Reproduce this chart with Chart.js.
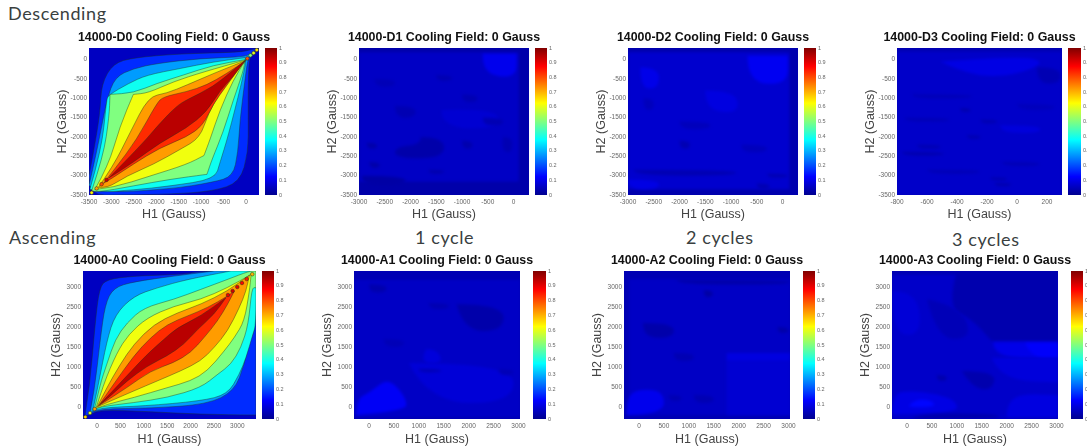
<!DOCTYPE html>
<html>
<head>
<meta charset="utf-8">
<script src="https://cdn.jsdelivr.net/npm/chart.js@4/dist/chart.umd.js"></script>
<style>
    html, body { margin: 0; padding: 0; background: #fff; overflow: hidden; }
    body { position: relative; width: 1087px; height: 448px; }
    canvas { position: absolute; filter: blur(0.5px); }
    .note { position: absolute; font-family: Lato, sans-serif; font-size: 18px; letter-spacing: 0.6px; color: #3a3f3f; white-space: nowrap; line-height: 20px; }
</style>
</head>
<body>
<div class="note" style="left:8px;top:3px">Descending</div>
<div class="note" style="left:9px;top:227px">Ascending</div>
<div class="note" style="left:415px;top:227px">1 cycle</div>
<div class="note" style="left:686px;top:227px">2 cycles</div>
<div class="note" style="left:952px;top:229px">3 cycles</div>
<script>
// ========== DATA ==========
const colorbarTicks = [0, 0.1, 0.2, 0.3, 0.4, 0.5, 0.6, 0.7, 0.8, 0.9, 1];
const jetValues = [0, 0.125, 0.375, 0.625, 0.875, 1];
const jetColors = [[0, 0, 143], [0, 0, 255], [0, 255, 255], [255, 255, 0], [255, 0, 0], [128, 0, 0]];

const d0XTicks = [-3500, -3000, -2500, -2000, -1500, -1000, -500, 0];
const d1XTicks = [-3000, -2500, -2000, -1500, -1000, -500, 0];
const d3XTicks = [-800, -600, -400, -200, 0, 200];
const descYTicks = [-3500, -3000, -2500, -2000, -1500, -1000, -500, 0];
const ascTicks = [0, 500, 1000, 1500, 2000, 2500, 3000];

// contour bands, outer to inner (a repeated vertex keeps its corner sharp)
const bandValues = [0.167, 0.278, 0.389, 0.5, 0.611, 0.722, 0.833, 0.944];

const d0Contours = [
    [[-3500,-3000],[-3400,-2410],[-3255,-1390],[-3220,-620],[-2960,-100],[-2510,50],[-1470,150],[-130,190],[120,260],[300,300],[300,300],[90,150],[50,-400],[50,-1550],[50,-2400],[-134,-3171],[-729,-3400],[-1680,-3480],[-2800,-3500],[-3500,-3500]],
    [[-3500,-3250],[-3330,-2410],[-3106,-1040],[-2920,-450],[-2510,-230],[-1990,-100],[-1030,30],[-50,70],[100,150],[100,150],[29,-60],[-23,-530],[-134,-1555],[-178,-2400],[-290,-3017],[-729,-3170],[-1695,-3350],[-3330,-3450]],
    [[-3480,-3350],[-3218,-2325],[-3110,-1060],[-3069,-920],[-2620,-615],[-2215,-400],[-1470,-230],[-730,-60],[-20,50],[-20,50],[0,-50],[-100,-615],[-400,-1990],[-580,-2660],[-690,-3090],[-1695,-3270],[-2510,-3370],[-3300,-3430]],
    [[-3440,-3390],[-3180,-2500],[-3050,-1470],[-3032,-900],[-3032,-900],[-2510,-860],[-1990,-615],[-1397,-400],[-730,-145],[-20,0],[-20,0],[-60,-300],[-283,-1043],[-513,-1889],[-758,-2580],[-870,-2966],[-870,-2966],[-1695,-3094],[-2510,-3265],[-3350,-3440]],
    [[-3370,-3360],[-3070,-2750],[-2810,-1720],[-2512,-900],[-2512,-900],[-2177,-860],[-1620,-570],[-951,-320],[-10,-10],[-10,-10],[-283,-530],[-580,-1300],[-803,-2070],[-937,-2480],[-937,-2480],[-1323,-2710],[-2140,-3010],[-2958,-3310]],
    [[-3290,-3300],[-2960,-2752],[-2590,-1900],[-2177,-960],[-1770,-870],[-1323,-660],[-729,-360],[-20,-30],[-20,-30],[-134,-145],[-540,-786],[-840,-1385],[-1026,-2025],[-1472,-2325],[-2066,-2710],[-2660,-3008],[-3100,-3330]],
    [[-3180,-3200],[-2920,-2820],[-2437,-2070],[-1992,-1130],[-1843,-960],[-1323,-830],[-877,-660],[-430,-360],[0,-20],[0,-20],[-90,-130],[-450,-700],[-730,-1150],[-960,-1700],[-1320,-2000],[-1920,-2280],[-2510,-2700],[-3000,-3080]],
    [[-3060,-3060],[-2360,-2240],[-1917,-1640],[-1546,-1200],[-1323,-1040],[-729,-700],[-283,-270],[-20,-20],[-20,-20],[-283,-440],[-580,-800],[-877,-1350],[-1323,-1770],[-1917,-2150],[-2510,-2650],[-2960,-2990]]
];
const d0TipPoints = [[-3440,-3440],[-3330,-3330],[-3220,-3220],[-3110,-3110],[30,30],[100,110],[170,170],[240,250]];
const d0TipValues = [0.64, 0.72, 0.8, 0.92, 0.8, 0.5, 0.6, 0.65];

const a0Contours = [
    [[-258,-225],[-150,566],[-43,2066],[50,2982],[208,3190],[783,3274],[1860,3315],[2219,3400],[3400,3400],[3400,3400],[3400,-200],[3400,-200],[2219,-183],[1142,-117],[65,-67],[-150,-200]],
    [[-150,-140],[-57,400],[65,1650],[172,2566],[352,2982],[783,3132],[1644,3274],[2506,3400],[2506,3400],[3400,3400],[3400,3400],[3400,1983],[3260,1690],[3152,1066],[2937,400],[2362,67],[1142,-33],[65,-42]],
    [[-93,-100],[30,566],[208,1650],[388,2316],[783,2774],[1285,2982],[1931,3190],[2865,3400],[2865,3400],[3400,3400],[3400,3400],[3400,2066],[3332,1816],[3188,1233],[3044,816],[2793,316],[2219,150],[998,25],[65,-17]],
    [[-57,-58],[65,566],[208,1066],[388,1690],[639,2107],[998,2482],[1644,2690],[2219,2940],[2793,3190],[3260,3400],[3400,3400],[3400,3400],[3400,2982],[3400,2982],[3310,2982],[3238,2066],[3080,1483],[2865,1066],[2578,816],[2219,483],[1500,233],[783,108],[65,8]],
    [[-22,-33],[136,566],[424,1358],[675,1816],[1070,2232],[1644,2524],[2219,2690],[2793,2982],[3296,3315],[3296,3315],[3260,2900],[3152,2149],[2937,1733],[2721,1400],[2362,900],[2003,650],[1500,483],[783,233],[208,67]],
    [[0,0],[208,483],[495,1066],[783,1566],[1213,2066],[1716,2357],[2219,2566],[2793,2899],[3260,3299],[3260,3299],[3188,2899],[3044,2482],[2793,1899],[2506,1483],[2219,1150],[1788,900],[1285,650],[783,400],[208,108]],
    [[29,25],[352,566],[783,1275],[1142,1733],[1500,2066],[1931,2274],[2362,2482],[2793,2774],[2937,2900],[2937,2900],[2793,2566],[2578,2149],[2290,1733],[2003,1358],[1644,1108],[1142,900],[639,483],[136,108]],
    [[65,67],[567,691],[1070,1316],[1429,1691],[1716,1983],[2219,2274],[2757,2732],[2757,2732],[2506,2316],[2147,1941],[1860,1566],[1500,1275],[1070,1025],[639,650],[208,192]]
];
const a0TipPoints = [[-250,-250],[-150,-150],[-50,-50],[2800,2800],[2900,2900],[3000,3000],[3100,3100],[3200,3200],[3320,3320]];
const a0TipValues = [0.66, 0.58, 0.72, 0.9, 0.92, 0.9, 0.88, 0.85, 0.7];

// low-field panels: soft patches on an almost uniform blue field
const d1Patches = [
    [[-3000,190],[100,190],[100,190],[100,-3150],[100,-3150],[-3000,-3150],[-3000,-3150]],
    [[-600,150],[60,150],[60,150],[60,-420],[-300,-450],[-600,-250]],
    [[-1400,-1300],[-300,-1250],[-300,-1800],[-1400,-1750]],
    [[-1800,-2000],[-1350,-2000],[-1350,-2550],[-2300,-2550],[-2300,-2250],[-1800,-2200]],
    [[-2950,-3000],[-2100,-3000],[-2100,-3250],[-2950,-3250]],
    [[-2850,-2150],[-2650,-2150],[-2650,-2300],[-2850,-2300]],
    [[-2800,-2650],[-2600,-2650],[-2600,-2800],[-2800,-2800]],
    [[-1000,-2100],[-800,-2100],[-800,-2300],[-1000,-2300]],
    [[-200,-2000],[0,-2000],[-50,-2450],[-250,-2300]],
    [[-1650,-2850],[-1350,-2850],[-1350,-2950],[-1650,-2950]],
    [[-2300,-1200],[-1900,-1200],[-1900,-1500],[-2300,-1500]],
    [[-600,-1500],[-200,-1500],[-200,-1700],[-600,-1700]],
    [[-1500,-400],[-1200,-400],[-1200,-550],[-1500,-550]],
    [[-2700,-500],[-2300,-500],[-2300,-700],[-2700,-700]],
    [[-1000,-900],[-700,-900],[-700,-1100],[-1000,-1100]]
];
const d1Values = [0.06, 0.105, 0.075, 0.03, 0.025, 0.03, 0.03, 0.035, 0.04, 0.035, 0.04, 0.04, 0.04, 0.045, 0.04];

const d2Patches = [
    [[-3000,190],[130,190],[130,190],[130,-3350],[130,-3350],[-3000,-3350],[-3000,-3350]],
    [[-680,100],[100,100],[100,100],[100,-650],[-680,-600]],
    [[-2760,-200],[-2400,-200],[-2400,-750],[-2760,-750]],
    [[-1500,-800],[-900,-800],[-850,-1400],[-1500,-1300]],
    [[-2900,-2850],[-900,-2850],[-900,-3000],[-2900,-3000]],
    [[-3000,-3100],[-2400,-3100],[-2400,-3350],[-3000,-3350]],
    [[-300,-2950],[100,-2950],[100,-3050],[-300,-3050]],
    [[-2000,-2100],[-1800,-2100],[-1800,-2300],[-2000,-2300]],
    [[-500,-3200],[-250,-3200],[-250,-3350],[-500,-3350]],
    [[-2700,-1000],[-2500,-1000],[-2500,-1300],[-2700,-1300]],
    [[-2000,-1600],[-1400,-1600],[-1400,-1800],[-2000,-1800]],
    [[-800,-2200],[-300,-2200],[-300,-2400],[-800,-2400]]
];
const d2Values = [0.07, 0.11, 0.1, 0.09, 0.04, 0.095, 0.04, 0.04, 0.04, 0.05, 0.05, 0.05];

const d3Patches = [
    [[-800,200],[300,200],[300,200],[300,-3500],[300,-3500],[-800,-3500],[-800,-3500]],
    [[-511,-50],[0,100],[200,-50],[0,-400],[-300,-450]],
    [[133,-200],[290,-200],[290,-620],[133,-620]],
    [[-667,-2200],[-511,-2200],[-511,-2300],[-667,-2300]],
    [[-767,-2390],[-490,-2390],[-490,-2480],[-767,-2480]],
    [[-378,-1250],[-311,-1250],[-311,-1350],[-378,-1350]],
    [[-244,-1550],[-133,-1550],[-133,-1650],[-244,-1650]],
    [[-333,-1950],[-244,-1950],[-244,-2050],[-333,-2050]],
    [[-178,-3050],[-67,-3050],[-67,-3120],[-178,-3120]],
    [[-150,-3190],[-40,-3190],[-40,-3270],[-150,-3270]],
    [[-111,-1700],[156,-1700],[156,-1900],[-111,-1900]],
    [[-700,-900],[-300,-900],[-300,-1000],[-700,-1000]],
    [[-750,-1500],[-450,-1500],[-450,-1600],[-750,-1600]],
    [[-600,-2850],[-250,-2850],[-250,-2950],[-600,-2950]],
    [[-100,-2650],[150,-2650],[150,-2750],[-100,-2750]],
    [[0,-1150],[250,-1150],[250,-1300],[0,-1300]]
];
const d3Values = [0.065, 0.095, 0.04, 0.04, 0.035, 0.035, 0.04, 0.04, 0.035, 0.035, 0.085, 0.045, 0.045, 0.045, 0.045, 0.05];

const a1Patches = [
    [[-300,3180],[3035,3180],[3035,3180],[3035,-250],[3035,-250],[-300,-250],[-300,-250]],
    [[800,1100],[2900,1100],[2900,100],[1200,100]],
    [[-250,-200],[750,-100],[750,200],[500,600],[300,650],[0,350],[-250,200]],
    [[1760,2570],[2700,2570],[2700,1900],[1900,1900]],
    [[0,3060],[350,3060],[350,2860],[0,2860]],
    [[1150,1450],[1350,1450],[1500,1100],[1000,1100]],
    [[1000,950],[1450,950],[1450,870],[1000,870]],
    [[1200,2600],[1600,2600],[1600,2450],[1200,2450]],
    [[300,1700],[700,1700],[700,1500],[300,1500]],
    [[2600,950],[2900,950],[2900,800],[2600,800]]
];
const a1Values = [0.06, 0.08, 0.115, 0.03, 0.035, 0.085, 0.04, 0.04, 0.045, 0.045];

const a2Patches = [
    [[-200,3200],[3035,3200],[3035,3200],[3035,-200],[3035,-200],[-200,-200],[-200,-200]],
    [[1760,1150],[3030,1150],[3030,1150],[3030,-200],[3030,-200],[1760,-200],[1760,-200]],
    [[1760,1350],[3030,1350],[3030,1350],[3030,1150],[3030,1150],[1760,1150],[1760,1150]],
    [[-250,-200],[500,-200],[500,400],[0,450],[-250,250]],
    [[750,3180],[3030,3180],[3030,3060],[750,3060]],
    [[1300,2920],[1480,2920],[1480,2750],[1300,2750]],
    [[80,2100],[700,2100],[700,1730],[80,1730]],
    [[2780,2000],[3000,2000],[3000,1850],[2780,1850]],
    [[700,1350],[1100,1350],[1100,1150],[700,1150]],
    [[1100,300],[1500,300],[1500,100],[1100,100]],
    [[600,300],[850,300],[850,150],[600,150]]
];
const a2Values = [0.06, 0.075, 0.09, 0.105, 0.03, 0.025, 0.03, 0.03, 0.04, 0.04, 0.04];

const a3Patches = [
    [[-300,3300],[3030,3300],[3030,3300],[3030,-300],[3030,-300],[-300,-300],[-300,-300]],
    [[-290,2900],[200,2900],[300,1800],[-290,1800]],
    [[1000,3400],[1000,3400],[3030,3400],[3030,3400],[3030,1650],[3030,1650],[1700,1650],[1700,1650],[1300,2200],[800,2500]],
    [[1730,1620],[1730,1620],[3030,1620],[3030,1620],[3030,1230],[3030,1230],[1730,1230]],
    [[2370,1600],[3030,1600],[3030,1600],[3030,1230],[3030,1230],[2500,1230]],
    [[1700,1230],[3030,1230],[3030,1230],[3030,620],[3030,620],[2300,640],[1800,900]],
    [[-290,-180],[1000,-180],[1000,150],[600,330],[100,400],[-290,350]],
    [[30,20],[250,-20],[600,30],[450,180],[150,190]],
    [[2000,-250],[3030,-250],[3030,-250],[3030,300],[3030,300],[2300,330],[2000,100]],
    [[100,-300],[1900,-300],[1800,-170],[200,-170]],
    [[1100,900],[1800,900],[1700,400],[1300,500]],
    [[600,800],[800,800],[800,650],[600,650]],
    [[400,2700],[1100,2500],[1300,1700],[600,1700]]
];
const a3Values = [0.065, 0.08, 0.035, 0.1, 0.12, 0.085, 0.095, 0.13, 0.09, 0.03, 0.035, 0.035, 0.045];

// ========== HELPERS ==========
function jet(v) {
    let i = 0;
    while (i < jetValues.length - 2 && v > jetValues[i + 1]) i++;
    const t = (v - jetValues[i]) / (jetValues[i + 1] - jetValues[i]);
    const c = jetColors[i].map((a, k) => Math.round(a + (jetColors[i + 1][k] - a) * t));
    return `rgb(${c[0]},${c[1]},${c[2]})`;
}

// fills a dataset's points as a closed rounded shape, the scales already placed them
const polygonFill = {
    id: 'polygonFill',
    beforeDatasetsDraw(chart, args, opts) {
        const a = chart.chartArea;
        chart.ctx.fillStyle = opts.base;
        chart.ctx.fillRect(a.left, a.top, a.right - a.left, a.bottom - a.top);
    },
    beforeDatasetDraw(chart, args) {
        const ds = chart.data.datasets[args.index];
        if (!ds.polygon) return;
        const a = chart.chartArea;
        const ctx = chart.ctx;
        const pts = args.meta.data;
        ctx.save();
        ctx.beginPath();
        ctx.rect(a.left, a.top, a.right - a.left, a.bottom - a.top);
        ctx.clip();
        if (ds.soft) ctx.filter = 'blur(1.6px)';
        ctx.beginPath();
        ctx.moveTo(pts[0].x, pts[0].y);
        for (let i = 1; i < pts.length; i++) {
            const next = pts[(i + 1) % pts.length];
            const endX = i === pts.length - 1 ? next.x : (pts[i].x + next.x) / 2;
            const endY = i === pts.length - 1 ? next.y : (pts[i].y + next.y) / 2;
            ctx.quadraticCurveTo(pts[i].x, pts[i].y, endX, endY);
        }
        ctx.closePath();
        ctx.fillStyle = ds.polygon;
        ctx.fill();
        if (ds.outline) {
            ctx.strokeStyle = ds.outline;
            ctx.lineWidth = 0.7;
            ctx.stroke();
        }
        ctx.restore();
    }
};

function addCanvas(left, top, width, height) {
    const c = document.createElement('canvas');
    c.width = width;
    c.height = height;
    c.style.left = left + 'px';
    c.style.top = top + 'px';
    c.style.width = width + 'px';
    c.style.height = height + 'px';
    document.body.appendChild(c);
    return c;
}

function polygonSets(shapes, values, outline) {
    const sets = shapes.map((shape, i) => ({
        data: shape.map(p => ({ x: p[0], y: p[1] })),
        polygon: jet(values[i]),
        outline: outline,
        soft: !outline,
        showLine: false,
        pointRadius: 0
    }));
    return sets.reverse();   // chart.js paints the first dataset last
}

function tipSet(points, values) {
    return {
        data: points.map(p => ({ x: p[0], y: p[1] })),
        pointRadius: 1.8,
        pointBackgroundColor: values.map(jet),
        pointBorderColor: '#2a2a20',
        pointBorderWidth: 0.5,
        showLine: false
    };
}

const tickFont = { size: 6.5, family: 'Liberation Sans' };
const titleFont = { size: 12.5, family: 'Liberation Sans', lineHeight: 1.2 };

function createPanel(p) {
    const sideGap = 34;
    const left = Math.round(p.plot[0] - sideGap);
    const width = Math.round(p.plot[1] - p.plot[0] + sideGap * 2);
    const top = p.row[0] - 20;
    const height = p.row[2] - top;
    new Chart(addCanvas(left, top, width, height), {
        type: 'scatter',
        data: { datasets: p.datasets },
        plugins: [polygonFill],
        options: {
            responsive: false,
            animation: false,
            plugins: {
                legend: { display: false },
                tooltip: { enabled: false },
                polygonFill: { base: jet(p.base) },
                title: {
                    display: true,
                    text: p.title,
                    color: '#111',
                    font: { size: 12.4, family: 'Liberation Sans', weight: 'bold', lineHeight: 1.2 },
                    padding: { top: p.row[0] - top - 17.88, bottom: 3 }
                }
            },
            scales: {
                x: {
                    type: 'linear',
                    min: p.xRange[0],
                    max: p.xRange[1],
                    grid: { display: false, drawTicks: false },
                    border: { display: false },
                    afterBuildTicks: s => { s.ticks = p.xTicks.map(value => ({ value })); },
                    afterFit: s => { s.height = p.row[2] - p.row[1]; },
                    ticks: { font: tickFont, color: '#666', padding: 3, maxRotation: 0, autoSkip: false, callback: v => String(v) },
                    title: { display: true, text: 'H1 (Gauss)', color: '#444', font: titleFont, padding: 0 }
                },
                y: {
                    min: p.yRange[0],
                    max: p.yRange[1],
                    grid: { display: false, drawTicks: false },
                    border: { display: false },
                    afterBuildTicks: s => { s.ticks = p.yTicks.map(value => ({ value })); },
                    afterFit: s => { s.width = p.plot[0] - left; },
                    ticks: { font: tickFont, color: '#666', padding: 2, autoSkip: false, callback: v => String(v) },
                    title: { display: true, text: 'H2 (Gauss)', color: '#444', font: titleFont, padding: 0 }
                },
                // empty axis on the right, keeps the title centred over the plot
                yGap: {
                    axis: 'y',
                    position: 'right',
                    grid: { display: false, drawTicks: false },
                    border: { display: false },
                    ticks: { display: false },
                    afterFit: s => { s.width = left + width - p.plot[1]; }
                }
            }
        }
    });
}

function createColorbar(bar, row) {
    const margin = 6;
    const left = Math.round(bar[0]);
    const width = Math.round(bar[1] - bar[0]) + 18;
    new Chart(addCanvas(left, row[0] - margin, width, row[1] - row[0] + margin * 2), {
        type: 'bar',
        data: {
            labels: [''],
            datasets: [{
                data: [[0, 1]],
                barPercentage: 1,
                categoryPercentage: 1,
                backgroundColor: ctx => {
                    const a = ctx.chart.chartArea;
                    if (!a) return '#00f';
                    const g = ctx.chart.ctx.createLinearGradient(0, a.bottom, 0, a.top);
                    jetValues.forEach(v => g.addColorStop(v, jet(v)));
                    return g;
                }
            }]
        },
        options: {
            responsive: false,
            animation: false,
            layout: { padding: { top: margin, bottom: margin } },
            plugins: { legend: { display: false }, tooltip: { enabled: false } },
            scales: {
                x: { display: false },
                y: {
                    position: 'right',
                    min: 0,
                    max: 1,
                    grid: { display: false, drawTicks: false },
                    border: { display: false },
                    afterBuildTicks: s => { s.ticks = colorbarTicks.map(value => ({ value })); },
                    afterFit: s => { s.width = 18; },
                    ticks: { font: { size: 5.5, family: 'Liberation Sans' }, color: '#666', padding: 2, autoSkip: false, callback: v => String(v) }
                }
            }
        }
    });
}

// ========== LAYOUT ==========
const topRow = [48, 195, 222];
const bottomRow = [271, 419, 447];
const descY = [-3500, 300];
const ascY = [-300, 3400];

const panels = [
    { title: '14000-D0 Cooling Field: 0 Gauss', plot: [89, 259], bar: [265, 277], row: topRow, xRange: [-3500, 290], yRange: descY, xTicks: d0XTicks, yTicks: descYTicks, base: 0.056,
      datasets: [tipSet(d0TipPoints, d0TipValues)].concat(polygonSets(d0Contours, bandValues, 'rgba(30,50,30,0.6)')) },
    { title: '14000-D1 Cooling Field: 0 Gauss', plot: [359, 529], bar: [535, 547], row: topRow, xRange: [-3000, 300], yRange: descY, xTicks: d1XTicks, yTicks: descYTicks, base: 0.03,
      datasets: polygonSets(d1Patches, d1Values) },
    { title: '14000-D2 Cooling Field: 0 Gauss', plot: [628, 798], bar: [804, 816], row: topRow, xRange: [-3000, 300], yRange: descY, xTicks: d1XTicks, yTicks: descYTicks, base: 0.035,
      datasets: polygonSets(d2Patches, d2Values) },
    { title: '14000-D3 Cooling Field: 0 Gauss', plot: [897, 1062], bar: [1068, 1081], row: topRow, xRange: [-800, 300], yRange: descY, xTicks: d3XTicks, yTicks: descYTicks, base: 0.04,
      datasets: polygonSets(d3Patches, d3Values) },
    { title: '14000-A0 Cooling Field: 0 Gauss', plot: [83, 256], bar: [262, 274], row: bottomRow, xRange: [-300, 3400], yRange: ascY, xTicks: ascTicks, yTicks: ascTicks, base: 0.056,
      datasets: [tipSet(a0TipPoints, a0TipValues)].concat(polygonSets(a0Contours, bandValues, 'rgba(30,50,30,0.6)')) },
    { title: '14000-A1 Cooling Field: 0 Gauss', plot: [354, 520], bar: [533, 546], row: bottomRow, xRange: [-300, 3030], yRange: ascY, xTicks: ascTicks, yTicks: ascTicks, base: 0.04,
      datasets: polygonSets(a1Patches, a1Values) },
    { title: '14000-A2 Cooling Field: 0 Gauss', plot: [624, 790], bar: [803, 815], row: bottomRow, xRange: [-300, 3030], yRange: ascY, xTicks: ascTicks, yTicks: ascTicks, base: 0.04,
      datasets: polygonSets(a2Patches, a2Values) },
    { title: '14000-A3 Cooling Field: 0 Gauss', plot: [892, 1058], bar: [1071, 1083], row: bottomRow, xRange: [-300, 3030], yRange: ascY, xTicks: ascTicks, yTicks: ascTicks, base: 0.04,
      datasets: polygonSets(a3Patches, a3Values) }
];

panels.forEach(p => {
    createPanel(p);
    createColorbar(p.bar, p.row);
});
</script>
</body>
</html>
